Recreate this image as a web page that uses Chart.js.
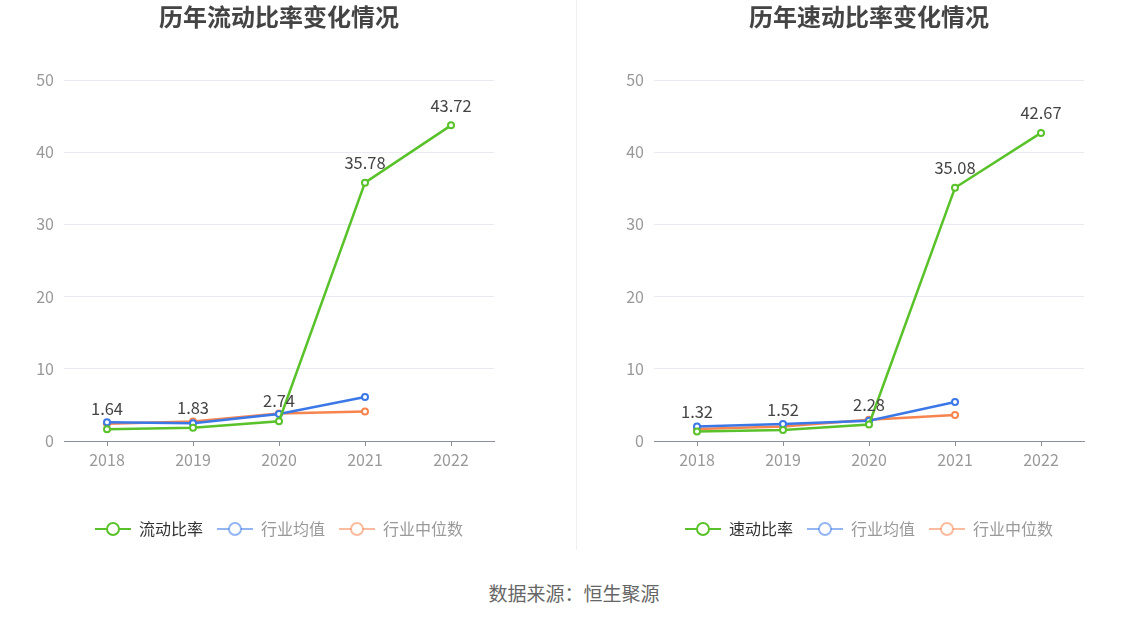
<!DOCTYPE html>
<html><head><meta charset="utf-8">
<script src="https://cdn.jsdelivr.net/npm/chart.js@4"></script>
<style>
html,body{margin:0;padding:0;background:#fff;width:1148px;height:619px;overflow:hidden;font-family:"Noto Sans CJK SC","Noto Sans",sans-serif;}
.c{position:absolute;top:0;height:560px;}
#sep{position:absolute;left:576px;top:0;width:1px;height:550px;background:#f0f0f0;}
#foot{position:absolute;left:0;width:1148px;top:580px;text-align:center;font-size:19px;color:#666;line-height:26px;}
</style></head>
<body>
<div class="c" style="left:0;width:574px;"><canvas id="c1" width="574" height="560"></canvas></div>
<div class="c" style="left:574px;width:574px;"><canvas id="c2" width="574" height="560"></canvas></div>
<div id="sep"></div>
<div id="foot">数据来源：恒生聚源</div>
<script>
const categories = ['2018','2019','2020','2021','2022'];
const yTicks = [0,10,20,30,40,50];
const currentRatio = [1.64, 1.83, 2.74, 35.78, 43.72];
const currentMean = [2.6, 2.45, 3.75, 6.1, null];
const currentMedian = [2.4, 2.7, 3.8, 4.1, null];
const quickRatio = [1.32, 1.52, 2.28, 35.08, 42.67];
const quickMean = [2.0, 2.35, 2.8, 5.4, null];
const quickMedian = [1.65, 2.0, 2.95, 3.6, null];

const GREEN = '#59c22a', BLUE = '#3b78e7', ORANGE = '#f7844f';
const FONT = '"Noto Sans CJK SC","Noto Sans",sans-serif';

function marker(color, alpha){
  const cv = document.createElement('canvas');
  cv.width = 36; cv.height = 16;
  const g = cv.getContext('2d');
  g.globalAlpha = alpha;
  g.strokeStyle = color; g.lineWidth = 2;
  g.beginPath(); g.moveTo(0,8); g.lineTo(36,8); g.stroke();
  g.globalAlpha = 1;
  g.fillStyle = '#fff';
  g.beginPath(); g.arc(18,8,6,0,Math.PI*2); g.fill();
  g.globalAlpha = alpha;
  g.beginPath(); g.arc(18,8,6,0,Math.PI*2); g.stroke();
  return cv;
}

const labelPlugin = {
  id:'vlabels',
  afterDatasetsDraw(chart){
    const ctx = chart.ctx;
    const meta = chart.getDatasetMeta(0);
    const data = chart.data.datasets[0].data;
    ctx.save();
    ctx.font = '16.5px ' + FONT;
    ctx.fillStyle = '#444';
    ctx.textAlign = 'center';
    ctx.textBaseline = 'middle';
    meta.data.forEach((pt,i)=>{
      ctx.fillText(data[i].toFixed(2), pt.x, pt.y - 20);
    });
    ctx.restore();
  }
};

function make(id, title, names, series, padL, padR){
  const colors = [GREEN, BLUE, ORANGE];
  const datasets = series.map((d,i)=>({
    label: names[i], data: d,
    borderColor: colors[i], backgroundColor: '#fff',
    borderWidth: 2.5, pointRadius: 3, pointBorderWidth: 2,
    pointBackgroundColor: '#fff', pointBorderColor: colors[i],
    tension: 0, spanGaps: false
  }));
  new Chart(document.getElementById(id), {
    type:'line',
    data:{labels: categories, datasets},
    plugins:[labelPlugin],
    options:{
      responsive:false, animation:false,
      layout:{padding:{left:padL, right:padR, top:0, bottom:13}},
      plugins:{
        title:{display:true, text:title, color:'#444', font:{size:24, weight:'bold', family:FONT}, padding:{top:2, bottom:49.2}},
        legend:{position:'bottom', labels:{
          usePointStyle:true, pointStyleWidth:36, padding:14,
          font:{size:16, family:FONT},
          generateLabels(chart){
            return chart.data.datasets.map((ds,i)=>({
              text: ds.label,
              pointStyle: marker(colors[i], i===0?1:0.55),
              fontColor: i===0?'#333':'#999',
              fillStyle:'#fff', strokeStyle: colors[i], lineWidth:0,
              hidden:false, datasetIndex:i
            }));
          }
        }},
        tooltip:{enabled:false}
      },
      scales:{
        x:{
          offset:true,
          grid:{drawOnChartArea:false, drawTicks:true, tickLength:5, offset:false, color:'#8a8f99'},
          border:{color:'#8a8f99'},
          ticks:{color:'#999', padding:4, font:{size:16, family:FONT}},
          afterFit(s){ s.height = 66; }
        },
        y:{
          min:yTicks[0], max:yTicks[yTicks.length-1],
          ticks:{stepSize:yTicks[1]-yTicks[0], color:'#999', padding:10, font:{size:16, family:FONT}},
          grid:{color:'#e8eaf1', drawTicks:false},
          border:{display:false},
          afterFit(s){ s.width = 64; }
        },
        yr:{
          position:'right', min:0, max:50,
          grid:{drawOnChartArea:false, drawTicks:false},
          border:{display:false},
          ticks:{display:false},
          afterFit(s){ s.width = 64; }
        }
      }
    }
  });
}

make('c1','历年流动比率变化情况',['流动比率','行业均值','行业中位数'],[currentRatio,currentMean,currentMedian],0,16);
make('c2','历年速动比率变化情况',['速动比率','行业均值','行业中位数'],[quickRatio,quickMean,quickMedian],16,0);
</script>
</body></html>
